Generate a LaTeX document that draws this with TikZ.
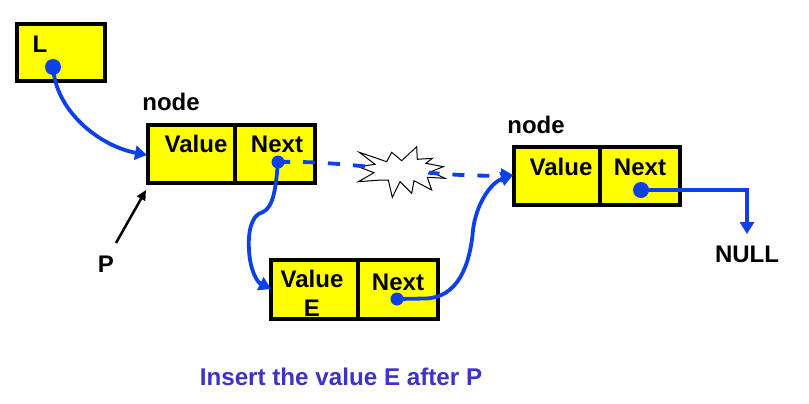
\documentclass[tikz,border=0pt]{standalone}
\usepackage{fontspec}
\setmainfont{Liberation Sans}
\usetikzlibrary{arrows.meta}
\definecolor{lnk}{RGB}{13,64,232}
\definecolor{cap}{RGB}{62,50,200}
\definecolor{cell}{RGB}{255,255,0}
\tikzset{
  x=1bp,y=-1bp,
  cellbox/.style={draw=black,line width=3.1bp,fill=cell},
  lab/.style={font=\bfseries\fontsize{24bp}{24bp}\selectfont,inner sep=0pt,text=black},
  dotn/.style={circle,fill=lnk,minimum size=16bp,inner sep=0pt},
  dotm/.style={circle,fill=lnk,minimum size=13bp,inner sep=0pt},
  lnkline/.style={draw=lnk,line width=3.8bp,-{Triangle[length=12bp,width=14bp]}},
}
\begin{document}
\begin{tikzpicture}
\useasboundingbox (0,0) rectangle (809,403);
\fill[white] (0,0) rectangle (809,403);
% boxes
\draw[cellbox] (17,24) rectangle (105,81);
\draw[cellbox] (148,125) rectangle (315,183);
\draw[cellbox] (235,125) -- (235,183);
\draw[cellbox] (271,260) rectangle (438,319);
\draw[cellbox] (358,260) -- (358,319);
\draw[cellbox] (514,147) rectangle (680,205);
\draw[cellbox] (600,147) -- (600,205);
% labels
\node[lab] (tL) at (40,44) {L};
\node[lab] (tn1) at (171,102) {node};
\node[lab] (tv1) at (196,144) {Value};
\node[lab] (tx1) at (277,144) {Next};
\node[lab] (tP) at (106,264) {P};
\node[lab] (tn3) at (536,125) {node};
\node[lab] (tv3) at (561,167) {Value};
\node[lab] (tx3) at (640,167) {Next};
\node[lab] (tvE) at (312,279) {Value};
\node[lab] (tE) at (312,308) {E};
\node[lab] (txE) at (398,282) {Next};
\node[lab] (tN) at (747,254) {NULL};
\node[lab,text=cap,font=\bfseries\fontsize{24.2bp}{24bp}\selectfont] (tI) at (341,377) {Insert the value E after P};
% anchors
\coordinate (a1) at (147,155);
\coordinate (aE) at (271,289);
\coordinate (a3) at (513,175);
\coordinate (nullend) at (747,234);
\coordinate (pend) at (146,190);
\coordinate (pstart) at (116,243);
% burst (outline and white fill)
\draw[black,line width=1bp,fill=white,line join=miter]
 (359.3,152.3) -- (386.7,161.7) -- (391.7,152.3) -- (401.7,160.7) -- (416.7,146.7)
 -- (417.3,159.3) -- (432.3,158.3) -- (426,163.3) -- (443.3,166.7) -- (430.7,171.7)
 -- (445,178.3) -- (427.3,177.3) -- (431.7,190) -- (414,180.7) -- (411.7,193.3)
 -- (400,181.7) -- (392.3,197.3) -- (388.3,180) -- (381,180) -- (358.3,181.7)
 -- (374,172.7) -- (358.3,166.7) -- (375,164.3) -- cycle;
% dots
\node[dotn] (dL) at (53,67) {};
\node[dotm] (d1) at (278,162) {};
\node[dotm] (dE) at (397,299) {};
\node[dotn] (d3) at (641,190) {};
% connectors
\draw[lnkline] (dL.center) .. controls (56,112) and (100,146) .. (a1);
\draw[lnkline] (d1.center) .. controls (276,185) and (274,207) .. (263,212)
   .. controls (250,215) and (248,235) .. (249,250)
   .. controls (250,270) and (257,282) .. (aE);
\draw[draw=lnk,line width=3.8bp,dash pattern=on 12bp off 13bp,-{Triangle[length=12bp,width=14bp]}]
   (d1.center) .. controls (350,160) and (430,178) .. (a3);
\draw[lnkline] (dE.center) -- (425,298.5) .. controls (458,298) and (470,265) .. (473,230)
   .. controls (476,205) and (490,183) .. (a3);
\draw[lnkline] (d3.center) -- (747,190) -- (nullend);
\draw[black,line width=2.5bp,-{Triangle[length=10bp,width=9bp]}] (pstart) -- (pend);
% white core of the burst hides the dashed line inside it
\fill[white] (376,165.5) -- (425,165.5) -- (429,171.7) -- (426,176) -- (376,176) -- (375.5,172.7) -- cycle;
\end{tikzpicture}
\end{document}
